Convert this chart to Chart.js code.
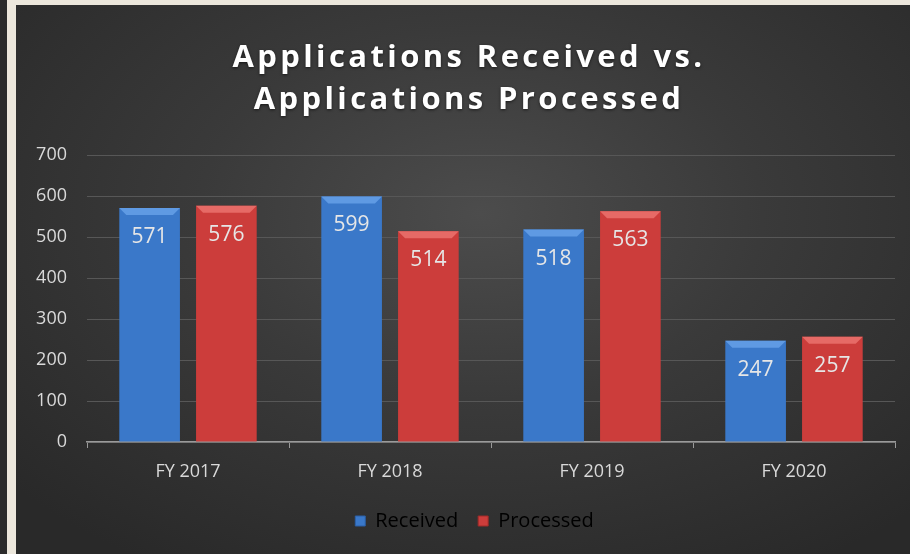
<!DOCTYPE html>
<html>
<head>
<meta charset="utf-8">
<script src="https://cdn.jsdelivr.net/npm/chart.js@4"></script>
<style>
  html, body { margin: 0; padding: 0; }
  body { width: 910px; height: 554px; background: #ece7dc; position: relative; overflow: hidden; }
  .strip { position: absolute; left: 0; top: 0; width: 7px; height: 554px; background: #2b2b2b; }
  .panel { position: absolute; left: 16px; top: 5px; width: 894px; height: 549px;
    background: radial-gradient(ellipse 70% 75% at 52% 38%, #4c4c4c 0%, #3a3a3a 45%, #292929 100%); }
</style>
</head>
<body>
<div class="strip"></div>
<div class="panel"><canvas id="chart" width="894" height="549"></canvas></div>
<script>
const titleLines = ['Applications Received vs.', 'Applications Processed'];
const categories = ['FY 2017', 'FY 2018', 'FY 2019', 'FY 2020'];
const received = [571, 599, 518, 247];
const processed = [576, 514, 563, 257];
const yTicks = [0, 100, 200, 300, 400, 500, 600, 700];

const blue = { base: '#3a78c9', light: '#5f9ae3', dark: '#2a5ea6' };
const red = { base: '#cc3d3b', light: '#e66a66', dark: '#a02a28' };

function barFill(ctx, c) {
    const el = ctx.chart.getDatasetMeta(ctx.datasetIndex).data[ctx.dataIndex];
    if (!el || !el.width) return c.base;
    const g = ctx.chart.ctx.createLinearGradient(el.x - el.width / 2, 0, el.x + el.width / 2, 0);
    g.addColorStop(0, c.dark);
    g.addColorStop(0.08, c.base);
    g.addColorStop(0.92, c.base);
    g.addColorStop(1, c.dark);
    return g;
}

// bevel on top of each bar + value labels
const bevelAndLabels = {
    id: 'bevelAndLabels',
    afterDatasetsDraw(chart) {
        const ctx = chart.ctx;
        chart.data.datasets.forEach((ds, i) => {
            const c = i === 0 ? blue : red;
            chart.getDatasetMeta(i).data.forEach((bar, j) => {
                const l = bar.x - bar.width / 2, r = bar.x + bar.width / 2, t = bar.y;
                ctx.save();
                ctx.fillStyle = c.light;
                ctx.beginPath();
                ctx.moveTo(l, t);
                ctx.lineTo(r, t);
                ctx.lineTo(r - 7, t + 7);
                ctx.lineTo(l + 7, t + 7);
                ctx.closePath();
                ctx.fill();
                ctx.fillStyle = '#e6e6e6';
                ctx.font = '21px "Open Sans"';
                ctx.textAlign = 'center';
                ctx.textBaseline = 'middle';
                ctx.fillText(ds.data[j], bar.x, t + 29);
                ctx.restore();
            });
        });
    }
};

const spacedTitle = {
    id: 'spacedTitle',
    afterDraw(chart) {
        const ctx = chart.ctx;
        ctx.save();
        ctx.fillStyle = '#ffffff';
        ctx.font = 'bold 31px "Open Sans"';
        ctx.letterSpacing = '3.4px';
        ctx.textAlign = 'center';
        ctx.textBaseline = 'middle';
        ctx.shadowColor = 'rgba(0,0,0,0.6)';
        ctx.shadowBlur = 3;
        ctx.shadowOffsetY = 1;
        titleLines.forEach((line, k) => ctx.fillText(line, 453, 53 + k * 42));
        ctx.restore();
    }
};

// the legend sits a little right of centre in the original
const legendShift = {
    id: 'legendShift',
    afterLayout(chart) {
        chart.legend.left += 19;
        chart.legend.right += 19;
    }
};

new Chart(document.getElementById('chart'), {
    type: 'bar',
    data: {
        labels: categories,
        datasets: [
            { label: 'Received', data: received, backgroundColor: ctx => barFill(ctx, blue), borderColor: blue.base },
            { label: 'Processed', data: processed, backgroundColor: ctx => barFill(ctx, red), borderColor: red.base }
        ]
    },
    options: {
        responsive: false,
        animation: false,
        categoryPercentage: 0.76,
        barPercentage: 0.79,
        layout: { padding: { top: 150, right: 15, bottom: 13, left: 0 } },
        plugins: {
            title: { display: false },
            tooltip: { enabled: false },
            legend: {
                position: 'bottom',
                labels: {
                    color: '#d9d9d9',
                    font: { family: 'Open Sans', size: 20 },
                    boxWidth: 10, boxHeight: 10,
                    padding: 20,
                    generateLabels: chart => chart.data.datasets.map((ds, i) => ({
                        text: ds.label,
                        fillStyle: i === 0 ? blue.base : red.base,
                        strokeStyle: i === 0 ? blue.dark : red.dark,
                        lineWidth: 1,
                        datasetIndex: i
                    }))
                }
            }
        },
        scales: {
            x: {
                grid: { drawOnChartArea: false, color: '#9a9a9a', tickLength: 6 },
                border: { color: '#9a9a9a', width: 1.5 },
                ticks: { color: '#d9d9d9', font: { family: 'Open Sans', size: 18 }, padding: 13 },
                afterFit: s => { s.height = 49; }
            },
            y: {
                min: 0, max: 700,
                afterBuildTicks: s => { s.ticks = yTicks.map(v => ({ value: v })); },
                grid: { color: '#575757', drawTicks: false },
                border: { display: false },
                ticks: { color: '#d9d9d9', font: { family: 'Open Sans', size: 18 }, padding: 20 },
                afterFit: s => { s.width = 71; }
            }
        }
    },
    plugins: [bevelAndLabels, spacedTitle, legendShift]
});
</script>
</body>
</html>
